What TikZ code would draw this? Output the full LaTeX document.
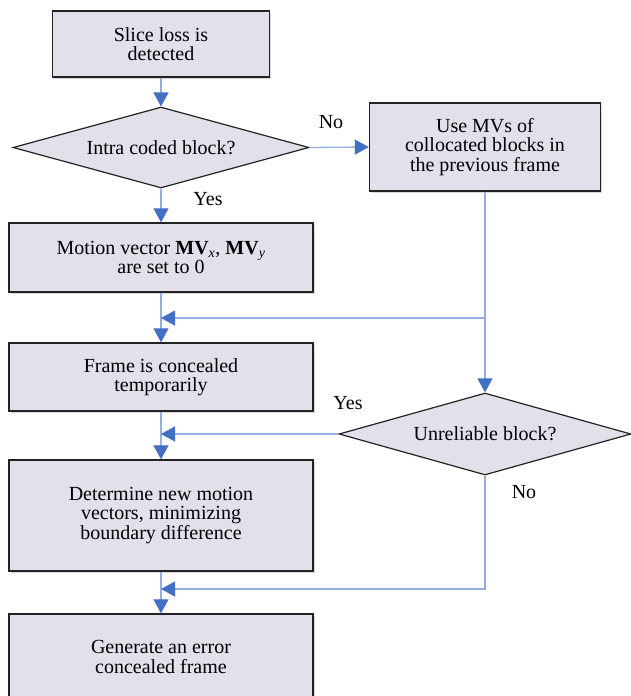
\documentclass[tikz,border=0pt]{standalone}
\usepackage{fontspec}
\setmainfont{Liberation Serif}
\usetikzlibrary{shapes.geometric,arrows.meta,shadows}
\definecolor{boxfill}{RGB}{227,223,235}
\definecolor{linkline}{RGB}{150,175,222}
\definecolor{tipblue}{RGB}{66,112,196}
\definecolor{edgecol}{RGB}{35,35,35}
\begin{document}
\begin{tikzpicture}[x=1pt,y=-1pt,
  font=\fontsize{20}{19.5}\selectfont,
  box/.style={draw=edgecol, line width=1.4pt, fill=boxfill, rectangle, align=center, inner sep=0pt,
    drop shadow={shadow xshift=1.5pt,shadow yshift=-1.5pt,fill=black!25,opacity=0.6}},
  dia/.style={draw=edgecol, line width=1.2pt, fill=boxfill, diamond, aspect=3.6, inner sep=0pt, align=center},
  link/.style={draw=linkline, line width=1.3pt},
  arr/.style={link, -{Triangle[width=15pt,length=14pt,color=tipblue]}},
  lbl/.style={inner sep=0pt}
]
\path[use as bounding box, fill=white] (0,0) rectangle (630,696);

\node[box, minimum width=217pt, minimum height=66pt] (n1) at (161,44) {Slice loss is\\detected};
\node[dia, minimum width=296pt, minimum height=81pt] (d1) at (161,147.5) {Intra coded block?};
\node[box, minimum width=304pt, minimum height=69pt] (n3) at (161,257.5) {Motion vector \textbf{MV}\textsubscript{\textit{x}}, \textbf{MV}\textsubscript{\textit{y}}\\are set to 0};
\node[box, minimum width=231pt, minimum height=88pt] (r) at (485,147) {Use MVs of\\collocated blocks in\\the previous frame};
\node[box, minimum width=304pt, minimum height=68pt] (n4) at (161,377) {Frame is concealed\\temporarily};
\node[dia, minimum width=292pt, minimum height=82pt] (d2) at (485,434) {Unreliable block?};
\node[box, minimum width=304pt, minimum height=111pt] (n5) at (161,515.5) {Determine new motion\\vectors, minimizing\\boundary difference};
\node[box, minimum width=304pt, minimum height=86pt] (n6) at (161,657) {Generate an error\\concealed frame};

\coordinate (j1) at (161,318);
\coordinate (j2) at (161,434);
\coordinate (j3) at (161,589);

\draw[arr] (n1.south) -- (d1.north);
\draw[arr] (d1.south) -- (n3.north);
\draw[arr] (d1.east) -- (r.west);
\draw[arr] (n3.south) -- (n4.north);
\draw[arr] (r.south) |- (j1);
\draw[arr] (r.south) -- (d2.north);
\draw[arr] (n4.south) -- (n5.north);
\draw[arr] (d2.west) -- (j2);
\draw[arr] (n5.south) -- (n6.north);
\draw[arr] (d2.south) |- (j3);

\node[lbl] (yes1) at (208,199) {Yes};
\node[lbl] (no1) at (331,122) {No};
\node[lbl] (yes2) at (348,403) {Yes};
\node[lbl] (no2) at (524,492) {No};
\end{tikzpicture}
\end{document}
